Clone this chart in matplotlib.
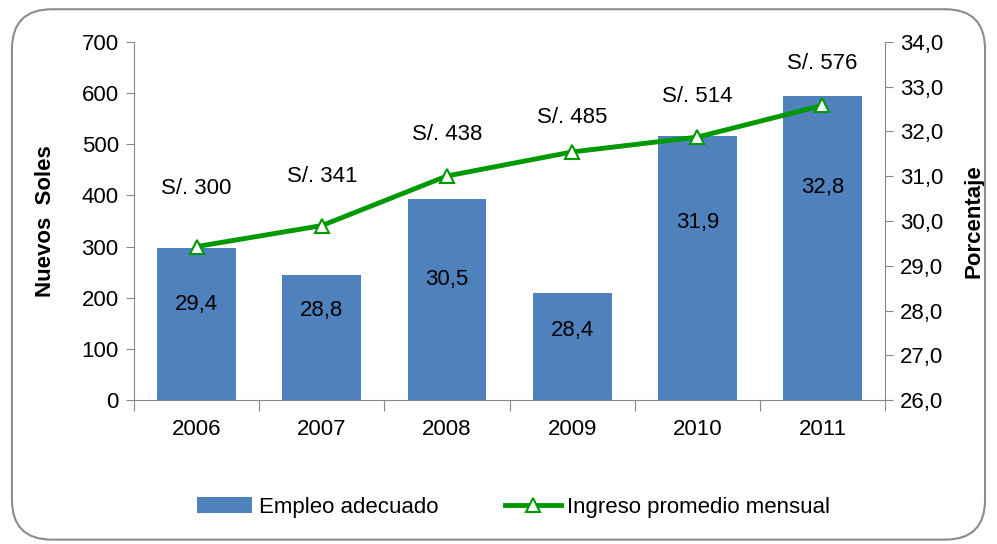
import numpy as np
import matplotlib.pyplot as plt
from matplotlib.patches import FancyBboxPatch

plt.rcParams['font.family'] = ['Liberation Sans', 'DejaVu Sans']

# Data
years = ['2006', '2007', '2008', '2009', '2010', '2011']
empleo = [29.4, 28.8, 30.5, 28.4, 31.9, 32.8]          # Porcentaje (right axis)
ingreso = [300, 341, 438, 485, 514, 576]              # Nuevos Soles (left axis)
empleo_labels = ['29,4', '28,8', '30,5', '28,4', '31,9', '32,8']
ingreso_labels = ['S/. 300', 'S/. 341', 'S/. 438', 'S/. 485', 'S/. 514', 'S/. 576']

# label offsets (points) to mimic the manual placement of the original
bar_lab_off = [-41, -26, -58, -27, -62, -66]
line_lab_off = [42, 35, 30, 25, 29, 30]

bar_color = '#4F81BD'
line_color = '#009900'
grey = '#888888'

fig = plt.figure(figsize=(9.97, 5.44), dpi=100)
fig.patches.append(FancyBboxPatch((0.012, 0.008), 0.976, 0.975, boxstyle='round,pad=0,rounding_size=0.04',
                                  transform=fig.transFigure, fill=False, edgecolor='#8c8c8c', linewidth=1.5,
                                  mutation_aspect=997 / 544))

ax = fig.add_axes([0.1344, 0.2647, 0.7533, 0.6581])
ax2 = ax.twinx()

x = np.arange(len(years))
base = 26
bars = ax.bar(x, np.array(empleo) - base, bottom=base, width=0.63, color=bar_color, label='Empleo adecuado')
ax.set_ylim(26, 34)
ax.set_xlim(-0.5, 5.5)
ax.yaxis.tick_right()
ax.yaxis.set_label_position('right')
ax.set_yticks(np.arange(26, 35, 1))
ax.set_yticklabels([f'{v:.1f}'.replace('.', ',') for v in np.arange(26, 35, 1)])
ax.set_ylabel('Porcentaje', fontsize=16, fontweight='bold', labelpad=14)

ax.set_xticks(np.arange(-0.5, 6, 1))
ax.set_xticklabels([])
ax.set_xticks(x, minor=True)
ax.set_xticklabels(years, minor=True)
ax.tick_params(axis='x', which='minor', length=0, pad=14, labelsize=16)
ax.tick_params(axis='x', which='major', length=8, color=grey, direction='out')
ax.tick_params(axis='y', length=6, color=grey, labelsize=16, pad=5)

for i, b in enumerate(bars):
    ax.annotate(empleo_labels[i], (x[i], empleo[i]), xytext=(0, bar_lab_off[i]), textcoords='offset points',
                ha='center', va='center', fontsize=16)

for s in ['top', 'left']:
    ax.spines[s].set_visible(False)
ax.spines['right'].set_color(grey)
ax.spines['bottom'].set_color(grey)

ax2.yaxis.tick_left()
ax2.yaxis.set_label_position('left')
ax2.plot(x, ingreso, color=line_color, linewidth=3.5, marker='^', markersize=10,
         markerfacecolor='white', markeredgecolor=line_color, markeredgewidth=1.5,
         label='Ingreso promedio mensual')
ax2.set_ylim(0, 700)
ax2.set_yticks(range(0, 701, 100))
ax2.tick_params(axis='y', length=6, color=grey, labelsize=16, pad=5)
ax2.set_ylabel('Nuevos  Soles', fontsize=16, fontweight='bold', labelpad=18)
for s in ['top', 'right', 'bottom']:
    ax2.spines[s].set_visible(False)
ax2.spines['left'].set_color(grey)

for i in range(len(years)):
    ax2.annotate(ingreso_labels[i], (x[i], ingreso[i]), xytext=(0, line_lab_off[i]), textcoords='offset points',
                 ha='center', va='center', fontsize=16)

h1, l1 = ax.get_legend_handles_labels()
h2, l2 = ax2.get_legend_handles_labels()
fig.legend(h1 + h2, l1 + l2, loc='center', bbox_to_anchor=(0.515, 0.068), ncol=2, frameon=False,
           fontsize=16, handlelength=2.5, handletextpad=0.3, columnspacing=3)

fig.savefig('out.png', dpi=100)
